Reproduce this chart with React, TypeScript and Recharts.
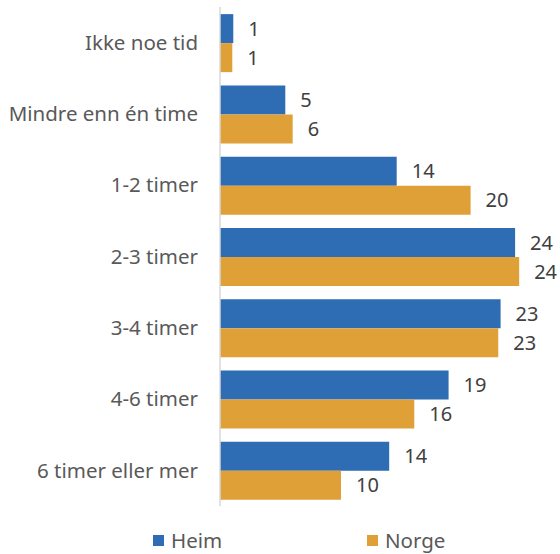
import React from "react";
import { BarChart, Bar, XAxis, YAxis, LabelList } from "recharts";

const categories = [
  "Ikke noe tid",
  "Mindre enn én time",
  "1-2 timer",
  "2-3 timer",
  "3-4 timer",
  "4-6 timer",
  "6 timer eller mer",
];
const heim = [1.08, 5.31, 14.37, 24.0, 22.82, 18.59, 13.76];
const norge = [1.0, 5.91, 20.38, 24.33, 22.63, 15.8, 9.84];
const seriesNames = ["Heim", "Norge"];

const BLUE = "#2E6DB4";
const ORANGE = "#E0A038";
const FONT = "'Noto Sans', sans-serif";

const data = categories.map((c, i) => ({ name: c, Heim: heim[i], Norge: norge[i] }));

const fmt = (v: any) => String(Math.round(Number(v)));

export default function App() {
  return (
    <div style={{ position: "absolute", left: 0, top: 0, width: 560, height: 554, background: "#fff", fontFamily: FONT }}>
      <BarChart
        width={560}
        height={512}
        data={data}
        layout="vertical"
        margin={{ top: 7, right: 8, bottom: 6, left: 0 }}
        barCategoryGap="10%"
        barGap={0}
      >
        <XAxis type="number" hide domain={[0, 27]} />
        <YAxis
          type="category"
          dataKey="name"
          width={220}
          tickSize={0}
          tickMargin={22}
          axisLine={{ stroke: "#D9D9D9", strokeWidth: 1.5 }}
          tickLine={false}
          tick={{ fill: "#595959", fontSize: 20.5, fontFamily: FONT }}
        />
        <Bar dataKey="Heim" fill={BLUE} isAnimationActive={false}>
          <LabelList dataKey="Heim" position="right" offset={15} formatter={fmt} fill="#404040" fontSize={20} fontFamily={FONT} />
        </Bar>
        <Bar dataKey="Norge" fill={ORANGE} isAnimationActive={false}>
          <LabelList dataKey="Norge" position="right" offset={15} formatter={fmt} fill="#404040" fontSize={20} fontFamily={FONT} />
        </Bar>
      </BarChart>
      <div style={{ position: "absolute", top: 526, left: 153, display: "flex", alignItems: "center", fontSize: 20.5, color: "#595959", fontFamily: FONT }}>
        <span style={{ display: "inline-block", width: 11, height: 11, background: BLUE, marginRight: 7 }} />
        <span style={{ width: 196 }}>{seriesNames[0]}</span>
        <span style={{ display: "inline-block", width: 11, height: 11, background: ORANGE, marginRight: 7 }} />
        <span>{seriesNames[1]}</span>
      </div>
    </div>
  );
}
